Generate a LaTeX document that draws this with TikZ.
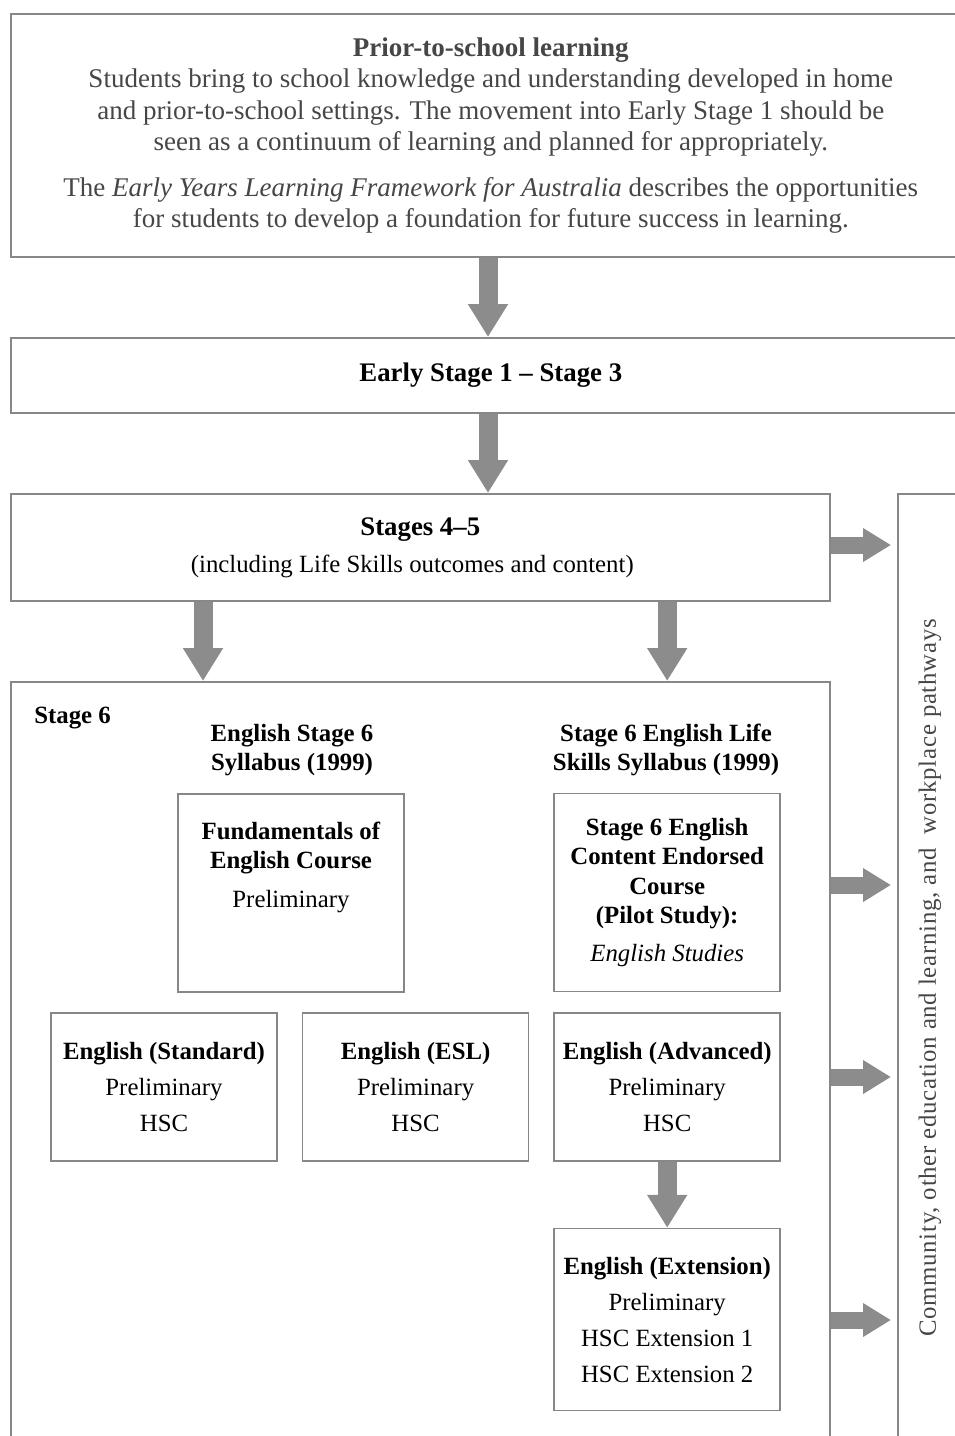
\documentclass[tikz,border=0pt]{standalone}
\usepackage{fontspec}
\setmainfont{Liberation Serif}
\usetikzlibrary{arrows.meta, positioning}
\definecolor{linegray}{RGB}{135,135,135}
\definecolor{arrowgray}{RGB}{140,140,140}
\definecolor{softtext}{RGB}{70,70,70}
\tikzstyle{block} = [draw=linegray, line width=0.8pt, rectangle, inner sep=0pt, align=center, anchor=north west]
\tikzstyle{course} = [block, anchor=center, minimum width=113pt, text=black, font=\fontsize{12.4pt}{14.75pt}\selectfont]
\tikzstyle{fat} = [arrowgray, line width=9.5pt, -{Triangle[width=19pt,length=16.5pt]}]
\tikzstyle{fatr} = [arrowgray, line width=8.5pt, -{Triangle[width=16pt,length=14pt]}, shorten >=3pt]

\begin{document}
\begin{tikzpicture}[x=0.5pt, y=-0.5pt]
  \useasboundingbox (0,0) rectangle (954,1436);
  % top band
  \node[block, minimum width=480pt, minimum height=121.5pt, text=softtext,
        font=\fontsize{13.5pt}{15.75pt}\selectfont] (prior) at (10,13)
    {\textbf{Prior-to-school learning}\\
     Students bring to school knowledge and understanding developed in home\\
     and prior-to-school settings. The movement into Early Stage 1 should be\\
     seen as a continuum of learning and planned for appropriately.\\[7pt]
     The \textit{Early Years Learning Framework for Australia} describes the opportunities\\
     for students to develop a foundation for future success in learning.};
  \node[block, minimum width=480pt, minimum height=37.5pt, text=black,
        font=\fontsize{13.4pt}{16pt}\selectfont\bfseries] (early) at (10,337)
    {Early Stage 1 -- Stage 3};
  \node[block, minimum width=409.5pt, minimum height=53.5pt, text=black,
        font=\fontsize{12.4pt}{18.5pt}\selectfont] (s45) at (10,493)
    {{\fontsize{13.4pt}{18.5pt}\selectfont\bfseries Stages 4--5}\\
     (including Life Skills outcomes and content)\hspace*{8pt}};
  \node[block, minimum width=409.5pt, minimum height=384.5pt] (s6) at (10,681) {};
  \node[block, minimum width=36.5pt, minimum height=478.5pt] (path) at (897,493) {};
  \node[rotate=90, text=softtext, font=\fontsize{12.4pt}{14pt}\selectfont\addfontfeature{LetterSpace=3}] (pathtext) at (930,978)
    {Community, other education and learning, and~~workplace pathways};

  % stage 6 contents
  \node[anchor=west, inner sep=0pt, font=\fontsize{12.4pt}{14.75pt}\selectfont\bfseries] (s6label) at (34,718) {Stage 6};
  \node[align=center, inner sep=0pt, font=\fontsize{12.4pt}{14.75pt}\selectfont\bfseries] (syl) at (292,750)
    {English Stage 6\\Syllabus (1999)};
  \node[align=center, inner sep=0pt, font=\fontsize{12.4pt}{14.75pt}\selectfont\bfseries] (lss) at (666,750)
    {Stage 6 English Life\\Skills Syllabus (1999)};

  \node[course, minimum height=74pt] (std) at (164,1087)
    {\textbf{English (Standard)}\\[3.25pt]Preliminary\\[3.25pt]HSC};
  \node[course, minimum height=74pt, right=12pt of std] (esl)
    {\textbf{English (ESL)}\\[3.25pt]Preliminary\\[3.25pt]HSC};
  \node[course, minimum height=74pt, right=12pt of esl] (adv)
    {\textbf{English (Advanced)}\\[3.25pt]Preliminary\\[3.25pt]HSC};
  \node[course, minimum height=91pt, below=33pt of adv] (ext)
    {\textbf{English (Extension)}\\[3.25pt]Preliminary\\[3.25pt]HSC Extension 1\\[3.25pt]HSC Extension 2};
  \node[course, minimum height=99pt, above=10pt of adv] (ce)
    {\textbf{Stage 6 English}\\\textbf{Content Endorsed}\\\textbf{Course}\\\textbf{(Pilot Study):}\\[4pt]\textit{English Studies}};
  \node[course, minimum height=99pt] (fund) at (291,893) {};
  \node[below=14pt of fund.north, align=center, inner sep=0pt,
        font=\fontsize{12.4pt}{14.75pt}\selectfont] (fundtext)
    {\textbf{Fundamentals of}\\\textbf{English Course}\\[4.5pt]Preliminary};

  % arrows
  \draw[fat] (prior.south -| 488,0) -- (early.north -| 488,0);
  \draw[fat] (early.south -| 488,0) -- (s45.north -| 488,0);
  \draw[fat] ([xshift=96.5pt]s45.south west) -- ([xshift=96.5pt]s6.north west);
  \draw[fat] (s45.south -| adv) -- (s6.north -| adv);
  \draw[fat] (adv) -- (ext);
  \draw[fatr] (s45.east |- 0,545) -- (path.west |- 0,545);
  \foreach \y in {885,1077,1320}
    \draw[fatr] (s6.east |- 0,\y) -- (path.west |- 0,\y);
\end{tikzpicture}
\end{document}
